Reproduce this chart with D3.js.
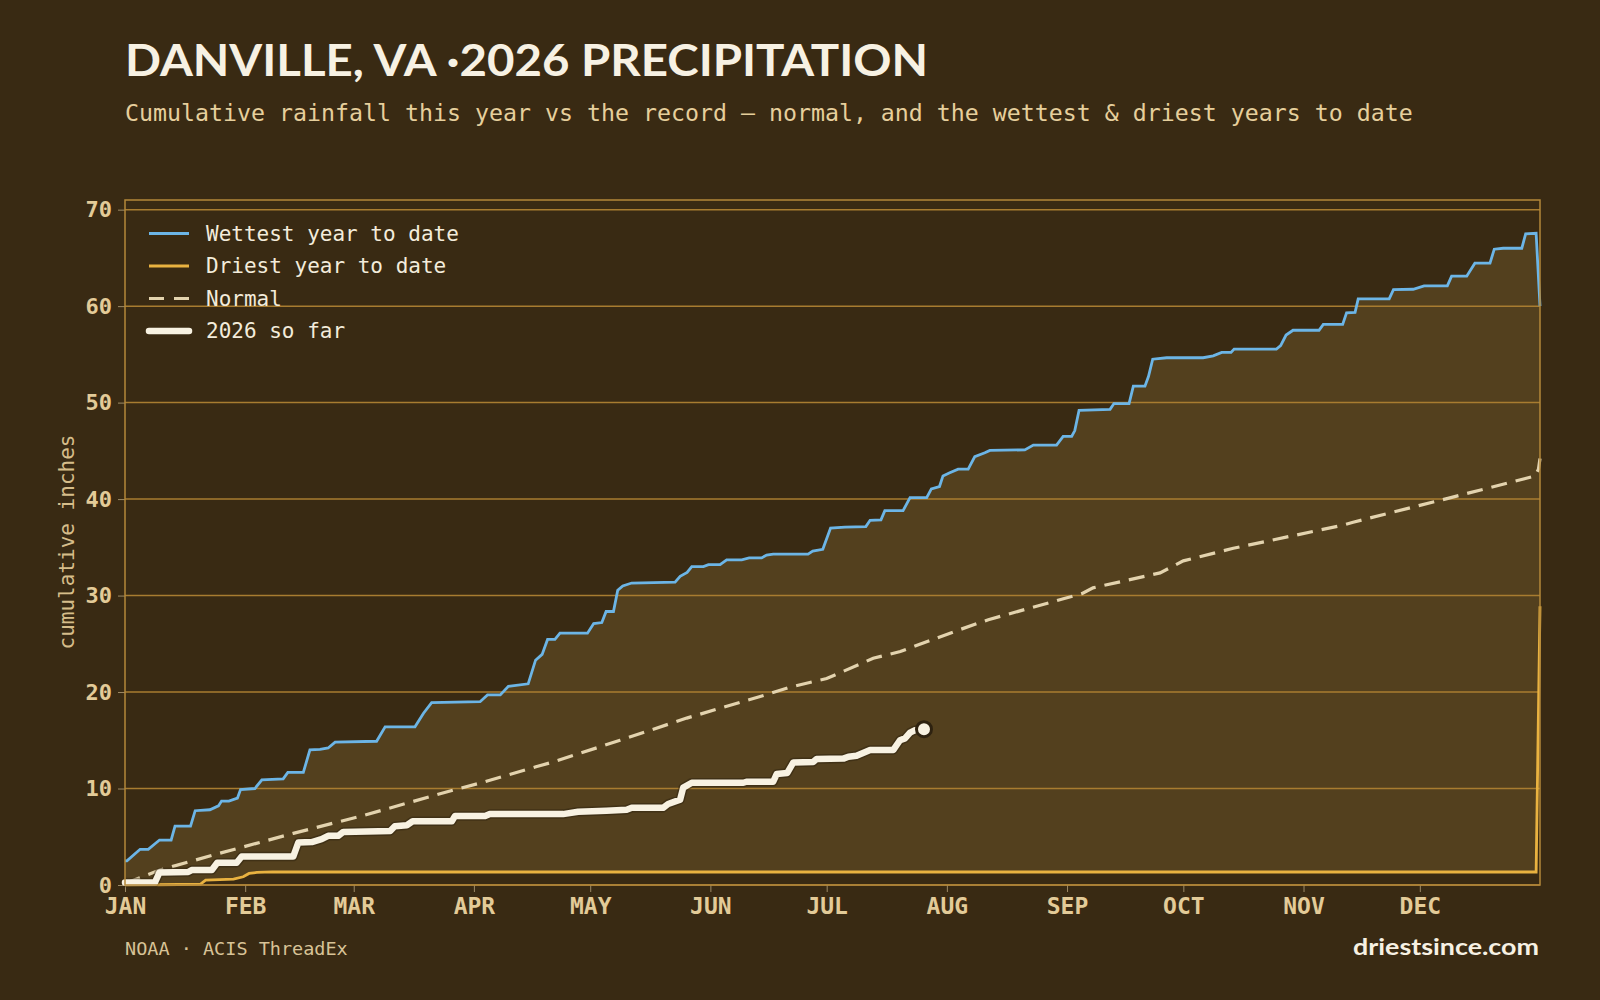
<!DOCTYPE html>
<html>
<head>
<meta charset="utf-8">
<script src="https://cdn.jsdelivr.net/npm/d3@7"></script>
<style>
  html, body { margin: 0; padding: 0; background: #392a13; }
  svg { display: block; }
</style>
</head>
<body>
<script>
var width = 1600,
    height = 1000;

// month starts (day of year) and labels
var monthStarts = [0, 31, 59, 90, 120, 151, 181, 212, 243, 273, 304, 334];
var monthLabels = ["JAN", "FEB", "MAR", "APR", "MAY", "JUN", "JUL", "AUG", "SEP", "OCT", "NOV", "DEC"];
var yTicks = [0, 10, 20, 30, 40, 50, 60, 70];

// [day of year, cumulative inches]
var wettest = [[0,2.5],[0.5,2.5],[3.9,3.7],[6,3.7],[8.9,4.66],[11.9,4.66],[12.9,6.1],[16.9,6.1],[18.1,7.7],[21.9,7.8],
  [24.1,8.2],[24.9,8.7],[26.8,8.7],[29,9.0],[29.8,9.9],[33.5,10.0],[35.3,10.9],[40.8,11.0],[42,11.67],[46,11.67],
  [47.7,14.0],[50.3,14.05],[52.4,14.2],[54.2,14.8],[64.9,14.9],[67.1,16.4],[74.8,16.4],[77,17.8],[79.1,18.9],[91.6,19.0],
  [93.5,19.7],[96.8,19.7],[98.9,20.6],[104,20.85],[105.9,23.3],[107.6,23.9],[109,25.45],[110.9,25.45],[112.2,26.1],[119.3,26.1],
  [120.9,27.1],[123,27.2],[124.1,28.35],[126,28.35],[127.1,30.55],[128.4,31.0],[130.7,31.3],[141.9,31.4],[143.2,32.0],[145,32.4],
  [146.2,33.0],[149.2,33.0],[150.5,33.2],[153.5,33.2],[155.2,33.7],[159.1,33.7],[161,33.9],[164.2,33.9],[165.5,34.2],[167.2,34.3],
  [176.2,34.3],[177.4,34.6],[180,34.8],[182,37.0],[185.7,37.1],[191.1,37.15],[192.2,37.8],[195,37.85],[196,38.8],[200.7,38.8],
  [202.5,40.15],[206.8,40.15],[208,41.05],[210.1,41.3],[211,42.4],[212.6,42.7],[214.9,43.1],[217.5,43.1],[219.2,44.4],[221.8,44.8],
  [223.1,45.05],[232.1,45.1],[234.3,45.6],[240.3,45.6],[242,46.5],[244.2,46.5],[245,47.1],[246.1,49.2],[254.1,49.3],[255.1,49.9],
  [259,49.9],[260.1,51.7],[263.1,51.7],[264,52.7],[265.1,54.5],[268.7,54.65],[278.1,54.65],[280.7,54.85],[282.9,55.2],[285.3,55.2],
  [286.1,55.55],[297,55.55],[298.1,55.9],[299.5,57.0],[301.3,57.5],[308,57.5],[309.1,58.1],[314.1,58.1],[315.1,59.3],[317.3,59.35],
  [318.1,60.75],[326.1,60.75],[327.2,61.7],[332.3,61.75],[335.1,62.1],[341.1,62.1],[342.2,63.1],[346.1,63.1],[348.2,64.45],[352.1,64.45],
  [353.2,65.9],[355.5,66.0],[360.3,66.0],[361.3,67.5],[364,67.55],[365,60]];

var driest = [[0,0],[14,0.05],[19.5,0.1],[20.8,0.5],[28,0.6],[30.5,0.85],[32,1.2],[34,1.3],[38,1.35],[364,1.35],[365,28.9]];

var normal = [[0,0.15],[9,1.55],[24.5,3.3],[43.4,5.35],[61.9,7.25],[84.7,9.84],[91,10.5],[106,12.25],[110.5,12.76],[127.7,15.0],
  [144.9,17.3],[166.4,19.85],[171.5,20.5],[181,21.4],[193,23.5],[200,24.2],[214.5,26.35],[222.7,27.5],[246.8,30.2],[249.7,30.8],
  [267,32.35],[273,33.6],[285.9,34.9],[314.2,37.3],[316.8,37.6],[334,39.35],[341,40.05],[363.8,42.4],[364.6,43.1],[365,44.2]];

var thisYear = [[0,0.25],[7.7,0.25],[8.9,1.3],[16.3,1.35],[17.2,1.55],[22.4,1.55],[23.8,2.3],[28.8,2.3],[30.1,2.95],[43.4,2.95],
  [44.7,4.4],[48.2,4.45],[50.7,4.75],[52.4,5.1],[55,5.1],[56.3,5.5],[68.4,5.6],[69.6,6.1],[72.7,6.2],[74.2,6.6],
  [84.3,6.6],[85.1,7.15],[92.9,7.15],[94.1,7.35],[113,7.35],[116.9,7.6],[124.2,7.7],[129.4,7.8],[130.7,8.0],[138.8,8.0],
  [140.1,8.4],[143.2,8.85],[144,10.1],[146.2,10.6],[159.5,10.6],[160.3,10.7],[167.2,10.7],[168.1,11.5],[170.8,11.6],[172.4,12.7],
  [177.5,12.75],[178.4,13.05],[185.3,13.1],[186.6,13.3],[188.7,13.4],[192.2,14.0],[198.2,14.0],[199.9,15.0],[201.2,15.2],[202.5,15.8],
  [203.8,16.05],[206.1,16.15]];

var legendItems = [
  {label: "Wettest year to date", color: "#6cb5e6", w: 2.8, dash: null, cap: "butt"},
  {label: "Driest year to date", color: "#e9b240", w: 2.8, dash: null, cap: "butt"},
  {label: "Normal", color: "#e3d3ae", w: 3.2, dash: "15,10", cap: "butt"},
  {label: "2026 so far", color: "#f8f2e2", w: 6.5, dash: null, cap: "round"}
];

var mono = "'DejaVu Sans Mono', monospace";
var sans = "Lato, 'Open Sans', sans-serif";

var svg = d3.select('body')
    .append('svg')
    .attr('width', width)
    .attr('height', height);

svg.append('rect').attr('width', width).attr('height', height).attr('fill', '#392a13');

var x = d3.scaleLinear().domain([0, 365]).range([125, 1540]);
var y = d3.scaleLinear().domain([0, 71]).range([885, 200]);

// titles
svg.append('text')
    .attr('x', 125).attr('y', 76)
    .attr('font-family', sans).attr('font-weight', 700).attr('font-size', 44)
    .attr('textLength', 803).attr('lengthAdjust', 'spacingAndGlyphs')
    .attr('fill', '#f7f1e3')
    .text('DANVILLE, VA ·2026 PRECIPITATION');

svg.append('text')
    .attr('x', 125).attr('y', 121)
    .attr('font-family', mono).attr('font-size', 23.25)
    .attr('fill', '#e6cf9c')
    .text('Cumulative rainfall this year vs the record — normal, and the wettest & driest years to date');

// band between wettest and driest
var line = d3.line().x(d => x(d[0])).y(d => y(d[1]));
var band = wettest.concat(driest.slice().reverse());
svg.append('path')
    .attr('d', line(band) + 'Z')
    .attr('fill', '#53401e');

// grid
svg.append('g').selectAll('line')
    .data(yTicks)
    .enter()
    .append('line')
    .attr('x1', 125).attr('x2', 1540)
    .attr('y1', d => y(d)).attr('y2', d => y(d))
    .attr('stroke', '#a87c30')
    .attr('stroke-width', 1.5);

// axes
var yAxis = svg.append('g')
    .attr('transform', 'translate(125,0)')
    .call(d3.axisLeft(y).tickValues(yTicks).tickSize(7).tickPadding(6));
yAxis.select('.domain').remove();
yAxis.selectAll('line').attr('stroke', '#9c8a66');
yAxis.selectAll('text')
    .attr('font-family', mono).attr('font-weight', 700).attr('font-size', 22)
    .attr('fill', '#e3cb98');

var xAxis = svg.append('g')
    .attr('transform', 'translate(0,885)')
    .call(d3.axisBottom(x).tickValues(monthStarts).tickFormat((d, i) => monthLabels[i]).tickSize(7).tickPadding(6));
xAxis.select('.domain').remove();
xAxis.selectAll('line').attr('stroke', '#9c8a66');
xAxis.selectAll('text')
    .attr('font-family', mono).attr('font-weight', 700).attr('font-size', 23)
    .attr('fill', '#e3cb98');

svg.append('text')
    .attr('transform', 'translate(74,542) rotate(-90)')
    .attr('text-anchor', 'middle')
    .attr('font-family', mono).attr('font-size', 21)
    .attr('fill', '#d6bd8a')
    .text('cumulative inches');

// series lines
svg.append('path')
    .attr('d', line(driest))
    .attr('fill', 'none').attr('stroke', '#e9b240').attr('stroke-width', 2.8);

svg.append('path')
    .attr('d', line(wettest))
    .attr('fill', 'none').attr('stroke', '#6cb5e6').attr('stroke-width', 2.8);

svg.append('path')
    .attr('d', line(normal))
    .attr('fill', 'none').attr('stroke', '#e3d3ae').attr('stroke-width', 3.2)
    .attr('stroke-dasharray', '16,9');

svg.append('path')
    .attr('d', line(thisYear))
    .attr('fill', 'none').attr('stroke', '#2a1f0e').attr('stroke-opacity', 0.45)
    .attr('stroke-width', 9.5).attr('stroke-linejoin', 'round');

svg.append('path')
    .attr('d', line(thisYear))
    .attr('fill', 'none').attr('stroke', '#f8f2e2').attr('stroke-width', 6.5)
    .attr('stroke-linejoin', 'round').attr('stroke-linecap', 'round');

var last = thisYear[thisYear.length - 1];
svg.append('circle')
    .attr('cx', x(last[0])).attr('cy', y(last[1]))
    .attr('r', 7.5)
    .attr('fill', '#f8f2e2')
    .attr('stroke', '#2e2210').attr('stroke-width', 3);

// frame
svg.append('rect')
    .attr('x', 125).attr('y', 200)
    .attr('width', 1415).attr('height', 685)
    .attr('fill', 'none')
    .attr('stroke', '#b4883a').attr('stroke-width', 1.5);

// legend
var lg = svg.append('g').selectAll('g')
    .data(legendItems)
    .enter()
    .append('g')
    .attr('transform', (d, i) => 'translate(0,' + (233.5 + i * 32.5) + ')');
lg.append('line')
    .attr('x1', 149).attr('x2', 189)
    .attr('stroke', d => d.color)
    .attr('stroke-width', d => d.w)
    .attr('stroke-linecap', d => d.cap)
    .attr('stroke-dasharray', d => d.dash);
lg.append('text')
    .attr('x', 206).attr('dy', '0.35em')
    .attr('font-family', mono).attr('font-size', 21)
    .attr('fill', '#f3ecdb')
    .text(d => d.label);

// footer
svg.append('text')
    .attr('x', 125).attr('y', 955)
    .attr('font-family', mono).attr('font-size', 18.5)
    .attr('fill', '#d8c397')
    .text('NOAA · ACIS ThreadEx');

svg.append('text')
    .attr('x', 1539).attr('y', 955)
    .attr('text-anchor', 'end')
    .attr('font-family', sans).attr('font-weight', 700).attr('font-size', 22)
    .attr('textLength', 186).attr('lengthAdjust', 'spacingAndGlyphs')
    .attr('fill', '#f7f1e3')
    .text('driestsince.com');
</script>
</body>
</html>
